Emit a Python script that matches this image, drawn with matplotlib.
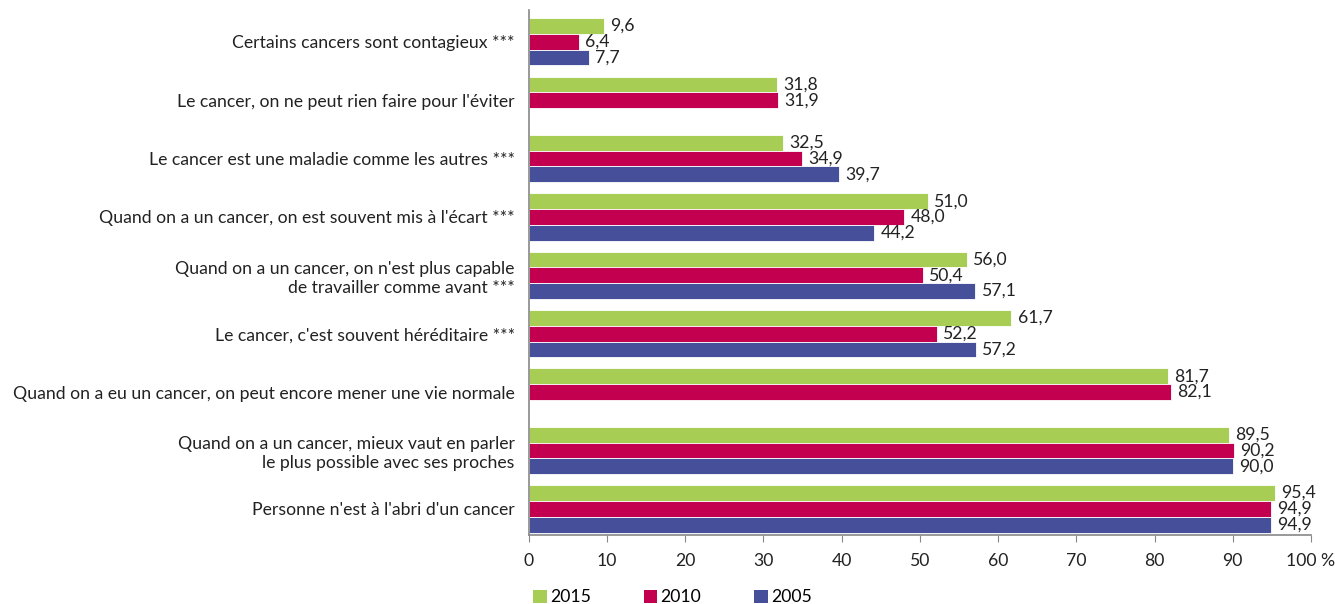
import matplotlib.pyplot as plt
import numpy as np

plt.rcParams['font.family'] = ['Lato', 'DejaVu Sans']

labels = [
    "Certains cancers sont contagieux ***",
    "Le cancer, on ne peut rien faire pour l'éviter",
    "Le cancer est une maladie comme les autres ***",
    "Quand on a un cancer, on est souvent mis à l'écart ***",
    "Quand on a un cancer, on n'est plus capable\nde travailler comme avant ***",
    "Le cancer, c'est souvent héréditaire ***",
    "Quand on a eu un cancer, on peut encore mener une vie normale",
    "Quand on a un cancer, mieux vaut en parler\nle plus possible avec ses proches",
    "Personne n'est à l'abri d'un cancer",
]
v2015 = [9.6, 31.8, 32.5, 51.0, 56.0, 61.7, 81.7, 89.5, 95.4]
v2010 = [6.4, 31.9, 34.9, 48.0, 50.4, 52.2, 82.1, 90.2, 94.9]
v2005 = [7.7, None, 39.7, 44.2, 57.1, 57.2, None, 90.0, 94.9]

years = ["2015", "2010", "2005"]
colors = ["#a8cd55", "#c2004f", "#464f99"]
fs = 12.7

fig = plt.figure(figsize=(13.35, 6.04), dpi=100)
ax = fig.add_axes([0.396, 0.114, 0.586, 0.87])

y = np.arange(len(labels))
h = 0.27
for k, (vals, col, yr) in enumerate(zip([v2015, v2010, v2005], colors, years)):
    pos = y + (k - 1) * h
    for yi, v in zip(pos, vals):
        if v is None:
            continue
        ax.barh(yi, v, height=h, color=col, edgecolor="white", linewidth=0.6)
        ax.text(v + 0.8, yi, f"{v:.1f}".replace(".", ","), va="center",
                ha="left", fontsize=fs, color="#222222")
    ax.barh(np.nan, 0, color=col, label=yr)

ax.set_ylim(8.45, -0.55)
ax.set_xlim(0, 100)
ax.set_yticks(y)
ax.set_yticklabels(labels, fontsize=fs, color="#222222", linespacing=1.25)
ax.tick_params(axis="y", length=0, pad=10)
ax.set_xticks(np.arange(0, 101, 10))
ax.set_xticklabels([str(t) for t in range(0, 100, 10)] + ["100 %"])
ax.tick_params(axis="x", direction="out", length=5, color="#888888",
               labelsize=fs, labelcolor="#222222", pad=8)
for s in ["top", "right"]:
    ax.spines[s].set_visible(False)
for s in ["left", "bottom"]:
    ax.spines[s].set_color("#888888")
    ax.spines[s].set_linewidth(1.2)

ax.legend(loc="upper left", bbox_to_anchor=(-0.003, -0.09), ncol=3,
          frameon=False, fontsize=fs, handlelength=0.75, handleheight=0.75,
          handletextpad=0.2, columnspacing=3.0, borderaxespad=0)

fig.savefig("out.png", dpi=100)
